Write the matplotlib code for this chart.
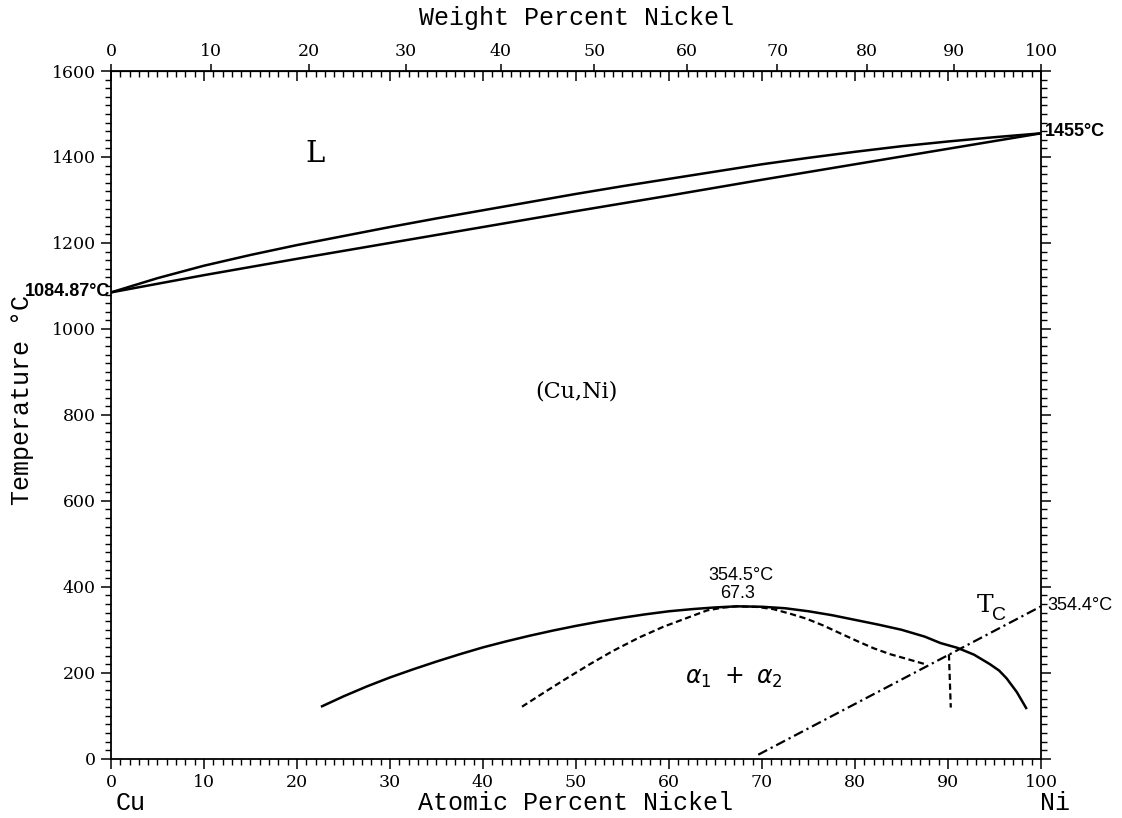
import numpy as np
import matplotlib.pyplot as plt
from matplotlib.ticker import MultipleLocator, NullFormatter

plt.rcParams['font.family'] = 'DejaVu Serif'

# atomic masses for the wt% <-> at% conversion
M_CU = 63.546
M_NI = 58.693

# liquidus / solidus (at.% Ni, degC)
liq_at = [0, 5, 10, 15, 20, 25, 30, 35, 40, 45, 50, 55, 60, 65, 70, 75, 80, 85, 90, 95, 100]
liq_t = [1084.87, 1118, 1147, 1172, 1195, 1216, 1237, 1257, 1276, 1295, 1314, 1332, 1349,
         1366, 1383, 1398, 1412, 1425, 1436, 1446, 1455]
sol_at = [0, 10, 20, 30, 40, 50, 60, 70, 80, 90, 100]
sol_t = [1084.87, 1125, 1163, 1200, 1237, 1274, 1310, 1347, 1383, 1419, 1455]

# miscibility gap (solid)
gap_at = [22.7, 25, 27.5, 30, 32.5, 35, 37.5, 40, 42.5, 45, 47.5, 50, 52.5, 55, 57.5, 60,
          62.5, 65, 67.3, 70, 72.5, 75, 77.5, 80, 82.5, 85, 87.5, 89.2, 91.0, 92.8, 94.5,
          95.5, 96.3, 97.4, 98.4]
gap_t = [122, 145, 168, 189, 208, 226, 243, 259, 273, 286, 298, 309, 319, 328, 336, 343,
         348, 352, 354.5, 353.5, 350, 343, 334, 323, 312, 300, 284, 269, 258, 242, 220,
         205, 187, 155, 118]

# dashed boundaries
spin_at = [44.2, 46.5, 48.7, 51.5, 54.0, 56.8, 59.4, 62.0, 64.1, 65.8, 67.3, 69.5, 71.2,
           73.0, 74.8, 76.6, 78.4, 80.2, 82.0, 83.8, 85.6, 87.7]
spin_t = [121, 153, 183, 220, 251, 282, 307, 328, 345, 351.5, 354.5, 353, 348,
          337.5, 325.6, 309.8, 291.8, 274, 257, 243, 232, 219]
vert_at = [90.1, 90.3]
vert_t = [243, 119]

# Curie temperature line
tc_at = [69.6, 100]
tc_t = [9.3, 354.4]

wt_ticks = list(range(0, 101, 10))
at_ticks = list(range(0, 101, 10))
t_ticks = list(range(0, 1601, 200))


def at_to_wt(a):
    a = np.asarray(a, dtype=float)
    return 100 * a * M_NI / (a * M_NI + (100 - a) * M_CU)


def wt_to_at(w):
    w = np.asarray(w, dtype=float)
    return 100 * (w / M_NI) / (w / M_NI + (100 - w) / M_CU)


fig = plt.figure(figsize=(11.22, 8.18), dpi=100)
ax = fig.add_axes([0.0989, 0.0725, 0.8289, 0.8407])

lw = 1.8
ax.plot(liq_at, liq_t, color='black', lw=lw, solid_joinstyle='round')
ax.plot(sol_at, sol_t, color='black', lw=lw, solid_joinstyle='round')
ax.plot(gap_at, gap_t, color='black', lw=lw, solid_joinstyle='round')
ax.plot(spin_at, spin_t, color='black', lw=1.6, dashes=(2.8, 1.6))
ax.plot(vert_at, vert_t, color='black', lw=1.6, dashes=(2.8, 1.6))
ax.plot(tc_at, tc_t, color='black', lw=1.6, dashes=(4.5, 1.8, 1.0, 1.8))

ax.set_xlim(0, 100)
ax.set_ylim(0, 1600)
ax.set_xticks(at_ticks)
ax.set_yticks(t_ticks)
ax.xaxis.set_minor_locator(MultipleLocator(1))
ax.yaxis.set_minor_locator(MultipleLocator(20))
ax.tick_params(axis='x', which='major', direction='out', length=7, width=1.1,
               labelsize=12.5, pad=4, top=False)
ax.tick_params(axis='x', which='minor', direction='out', length=4, width=1, top=False)
ax.tick_params(axis='y', which='major', direction='out', length=7, width=1.1,
               labelsize=12.5, pad=4, right=True)
ax.tick_params(axis='y', which='minor', direction='out', length=4, width=1, right=True)
for s in ax.spines.values():
    s.set_linewidth(1.3)

# at.% ticks pointing inward on the top edge
inner = ax.secondary_xaxis('top', functions=(lambda x: x, lambda x: x))
inner.set_xticks(at_ticks)
inner.xaxis.set_minor_locator(MultipleLocator(1))
inner.xaxis.set_major_formatter(NullFormatter())
inner.tick_params(which='major', direction='in', length=7, width=1.1)
inner.tick_params(which='minor', direction='in', length=4, width=1)

# weight percent scale on top
wax = ax.secondary_xaxis('top', functions=(at_to_wt, wt_to_at))
wax.set_xticks(wt_ticks)
wax.tick_params(which='major', direction='out', length=5, width=1.1, labelsize=12.5, pad=3)

sans = 'Liberation Sans'
mono = 'Liberation Mono'

ax.text(21.9, 1406, 'L', fontsize=21, ha='center', va='center')
ax.text(50.1, 854, '(Cu,Ni)', fontsize=16, ha='center', va='center')
ax.text(67.0, 189, r'$\alpha_1\ +\ \alpha_2$', fontsize=17, ha='center', va='center')
ax.text(67.7, 426, '354.5°C', family=sans, fontsize=13, ha='center', va='center')
ax.text(67.4, 385, '67.3', family=sans, fontsize=13, ha='center', va='center')
ax.text(94.0, 357, 'T', fontsize=18, ha='center', va='center')
ax.text(95.5, 334, 'C', family=sans, fontsize=14, ha='center', va='center')
ax.text(100.7, 357, '354.4°C', family=sans, fontsize=13, ha='left', va='center', clip_on=False)
ax.text(100.4, 1459, '1455°C', family=sans, fontsize=13, ha='left', va='center',
        weight='bold', clip_on=False)
ax.text(-0.1, 1087, '1084.87°C', family=sans, fontsize=13, ha='right', va='center',
        weight='bold', clip_on=False)

fig.text(0.514, 0.978, 'Weight Percent Nickel', family=mono, fontsize=18,
         ha='center', va='center')
fig.text(0.5125, 0.018, 'Atomic Percent Nickel', family=mono, fontsize=18,
         ha='center', va='center')
fig.text(0.116, 0.018, 'Cu', family=mono, fontsize=18, ha='center', va='center')
fig.text(0.940, 0.018, 'Ni', family=mono, fontsize=18, ha='center', va='center')
fig.text(0.0196, 0.511, 'Temperature °C', family=mono, fontsize=18, rotation=90,
         ha='center', va='center')

fig.savefig('out.png', dpi=100)
